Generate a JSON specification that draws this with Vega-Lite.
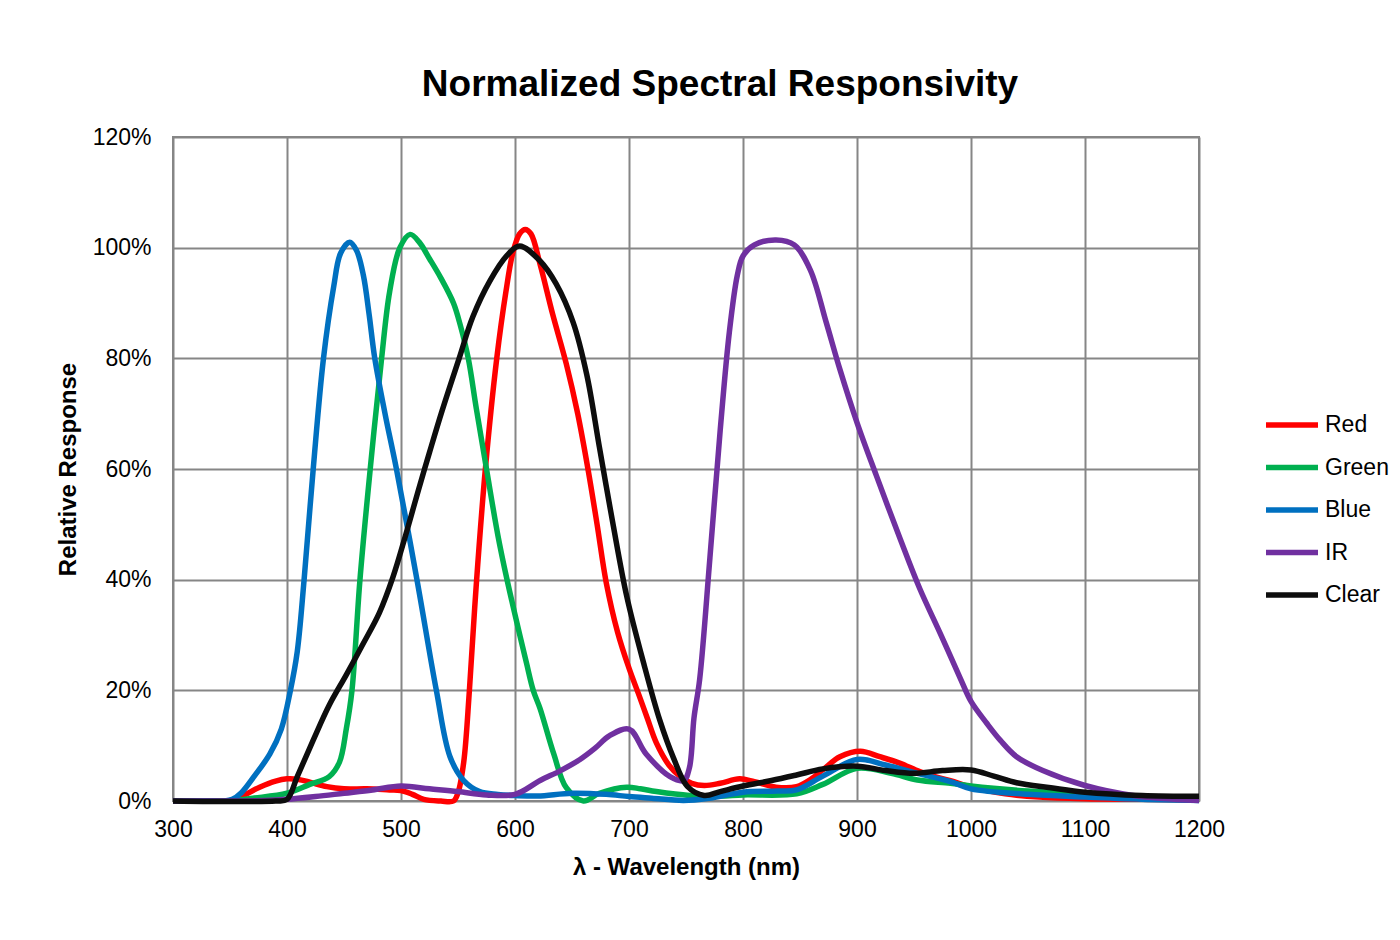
{
  "$schema": "https://vega.github.io/schema/vega-lite/v6.json",
  "width": 1026,
  "height": 664,
  "autosize": {"type": "none"},
  "padding": {"left": 173, "top": 137, "right": 201, "bottom": 139},
  "background": "white",
  "title": {"text": "Normalized Spectral Responsivity", "font": "Liberation Sans", "fontSize": 37, "fontWeight": "bold", "color": "black", "anchor": "middle", "frame": "group", "dx": 34, "offset": 22},
  "datasets": {
    "red": [
      {"wl":300,"v":0},{"wl":340,"v":0},{"wl":350,"v":0},{"wl":360,"v":0.8},{"wl":376,"v":2.5},{"wl":390,"v":3.6},{"wl":400,"v":4},{"wl":410,"v":3.9},{"wl":420,"v":3.4},{"wl":435,"v":2.6},{"wl":450,"v":2.2},{"wl":470,"v":2.2},{"wl":490,"v":2},{"wl":500,"v":1.9},{"wl":510,"v":1.2},{"wl":520,"v":0.3},{"wl":535,"v":0},{"wl":546,"v":0},{"wl":550,"v":1.5},{"wl":555,"v":7},{"wl":560,"v":20},{"wl":566,"v":39},{"wl":574,"v":60},{"wl":584,"v":80},{"wl":592,"v":92},{"wl":598,"v":99},{"wl":604,"v":102.5},{"wl":609,"v":103.3},{"wl":614,"v":102.5},{"wl":622,"v":97},{"wl":633,"v":88},{"wl":645,"v":79},{"wl":655,"v":70},{"wl":664,"v":60},{"wl":672,"v":50},{"wl":680,"v":39.5},{"wl":690,"v":30.5},{"wl":700,"v":24},{"wl":709,"v":19},{"wl":716,"v":15},{"wl":724,"v":10.5},{"wl":735,"v":6.5},{"wl":745,"v":4.4},{"wl":755,"v":3.2},{"wl":766,"v":2.8},{"wl":780,"v":3.2},{"wl":797,"v":4},{"wl":810,"v":3.5},{"wl":829,"v":2.5},{"wl":847,"v":2.6},{"wl":860,"v":4},{"wl":871,"v":5.8},{"wl":885,"v":8},{"wl":903,"v":9},{"wl":920,"v":8},{"wl":938,"v":6.8},{"wl":955,"v":5.3},{"wl":970,"v":4.3},{"wl":982,"v":3.7},{"wl":1000,"v":2.5},{"wl":1030,"v":1.3},{"wl":1060,"v":0.7},{"wl":1100,"v":0.4},{"wl":1150,"v":0.3},{"wl":1200,"v":0.2}
    ],
    "green": [
      {"wl":300,"v":0},{"wl":340,"v":0},{"wl":350,"v":0},{"wl":370,"v":0.5},{"wl":400,"v":1.4},{"wl":420,"v":3},{"wl":437,"v":4.4},{"wl":446,"v":7},{"wl":452,"v":13},{"wl":457,"v":20},{"wl":464,"v":40},{"wl":473,"v":60},{"wl":483,"v":80},{"wl":490,"v":92},{"wl":499,"v":100},{"wl":508,"v":102.4},{"wl":516,"v":101},{"wl":525,"v":98},{"wl":535,"v":94.5},{"wl":546,"v":90},{"wl":552,"v":86},{"wl":559,"v":80},{"wl":566,"v":71},{"wl":575,"v":60},{"wl":585,"v":48},{"wl":593,"v":40},{"wl":600,"v":33.7},{"wl":610,"v":25},{"wl":616,"v":20},{"wl":622,"v":16.7},{"wl":634,"v":8.5},{"wl":645,"v":2.4},{"wl":660,"v":0},{"wl":674,"v":1.4},{"wl":698,"v":2.5},{"wl":710,"v":2.2},{"wl":724,"v":1.7},{"wl":753,"v":1},{"wl":780,"v":0.9},{"wl":800,"v":1.1},{"wl":847,"v":1.3},{"wl":870,"v":3},{"wl":900,"v":5.9},{"wl":930,"v":5},{"wl":953,"v":3.8},{"wl":982,"v":3.2},{"wl":1000,"v":2.7},{"wl":1050,"v":1.8},{"wl":1100,"v":1.3},{"wl":1150,"v":0.8},{"wl":1200,"v":0.4}
    ],
    "blue": [
      {"wl":300,"v":0},{"wl":330,"v":0},{"wl":345,"v":0},{"wl":352,"v":0.3},{"wl":360,"v":1.5},{"wl":371,"v":4.4},{"wl":385,"v":8.5},{"wl":395,"v":13},{"wl":403,"v":20},{"wl":409,"v":27},{"wl":415,"v":40},{"wl":423,"v":60},{"wl":432,"v":80},{"wl":441,"v":93},{"wl":447,"v":99},{"wl":455,"v":101},{"wl":461,"v":99.5},{"wl":467,"v":95},{"wl":472,"v":88},{"wl":477,"v":80},{"wl":486,"v":70},{"wl":496,"v":60},{"wl":514,"v":40},{"wl":531,"v":20},{"wl":543,"v":8},{"wl":555,"v":3.7},{"wl":569,"v":1.7},{"wl":585,"v":1.2},{"wl":600,"v":1},{"wl":620,"v":0.9},{"wl":650,"v":1.4},{"wl":680,"v":1.2},{"wl":700,"v":0.8},{"wl":720,"v":0.5},{"wl":748,"v":0.1},{"wl":770,"v":0.5},{"wl":800,"v":1.6},{"wl":830,"v":1.8},{"wl":847,"v":2},{"wl":870,"v":4.5},{"wl":900,"v":7.5},{"wl":925,"v":6.5},{"wl":953,"v":5},{"wl":982,"v":3.5},{"wl":1000,"v":2.2},{"wl":1050,"v":1.2},{"wl":1100,"v":0.7},{"wl":1150,"v":0.3},{"wl":1200,"v":0.1}
    ],
    "ir": [
      {"wl":300,"v":0},{"wl":340,"v":0},{"wl":380,"v":0.1},{"wl":400,"v":0.3},{"wl":425,"v":0.8},{"wl":450,"v":1.4},{"wl":475,"v":2},{"wl":500,"v":2.7},{"wl":525,"v":2.2},{"wl":550,"v":1.7},{"wl":575,"v":1.1},{"wl":600,"v":1.2},{"wl":622,"v":3.7},{"wl":640,"v":5.5},{"wl":657,"v":7.5},{"wl":670,"v":9.5},{"wl":683,"v":11.8},{"wl":700,"v":13},{"wl":715,"v":8.5},{"wl":736,"v":4.4},{"wl":748,"v":3.7},{"wl":753,"v":6},{"wl":757,"v":15},{"wl":762,"v":22},{"wl":771,"v":44},{"wl":780,"v":67},{"wl":788,"v":84.7},{"wl":795,"v":95},{"wl":800,"v":98.5},{"wl":810,"v":100.5},{"wl":829,"v":101.4},{"wl":845,"v":100.5},{"wl":859,"v":96},{"wl":873,"v":86.5},{"wl":885,"v":78},{"wl":900,"v":68.4},{"wl":917,"v":58.8},{"wl":938,"v":47.3},{"wl":955,"v":38.4},{"wl":973,"v":30.3},{"wl":991,"v":22},{"wl":1000,"v":18},{"wl":1014,"v":14},{"wl":1026,"v":10.9},{"wl":1040,"v":8},{"wl":1063,"v":5.5},{"wl":1100,"v":2.8},{"wl":1142,"v":1},{"wl":1200,"v":0.1}
    ],
    "clear": [
      {"wl":300,"v":0},{"wl":390,"v":0},{"wl":400,"v":0.3},{"wl":409,"v":4.4},{"wl":423,"v":11},{"wl":437,"v":17.3},{"wl":452,"v":22.8},{"wl":467,"v":28.5},{"wl":481,"v":34},{"wl":493,"v":40.5},{"wl":504,"v":48},{"wl":515,"v":56},{"wl":525,"v":63},{"wl":536,"v":70.5},{"wl":551,"v":80},{"wl":563,"v":87.5},{"wl":578,"v":94},{"wl":593,"v":98.6},{"wl":604,"v":100.3},{"wl":622,"v":97.6},{"wl":636,"v":93.5},{"wl":651,"v":86.5},{"wl":663,"v":77},{"wl":674,"v":64},{"wl":686,"v":50},{"wl":698,"v":37},{"wl":713,"v":24.8},{"wl":727,"v":14.6},{"wl":739,"v":7.8},{"wl":751,"v":2.7},{"wl":766,"v":1},{"wl":780,"v":1.7},{"wl":800,"v":2.7},{"wl":825,"v":3.7},{"wl":847,"v":4.7},{"wl":870,"v":5.8},{"wl":900,"v":6.3},{"wl":925,"v":5.5},{"wl":950,"v":5},{"wl":975,"v":5.5},{"wl":1000,"v":5.6},{"wl":1020,"v":4.5},{"wl":1040,"v":3.3},{"wl":1070,"v":2.4},{"wl":1100,"v":1.6},{"wl":1150,"v":1},{"wl":1200,"v":0.85}
    ]
  },
  "layer": [
    {"data": {"name": "red"}, "mark": {"type": "line", "interpolate": "catmull-rom", "strokeWidth": 5.5, "clip": false},
     "encoding": {"x": {"field": "wl", "type": "quantitative"}, "y": {"field": "v", "type": "quantitative"}, "color": {"datum": "Red"}}},
    {"data": {"name": "green"}, "mark": {"type": "line", "interpolate": "catmull-rom", "strokeWidth": 5.5, "clip": false},
     "encoding": {"x": {"field": "wl", "type": "quantitative"}, "y": {"field": "v", "type": "quantitative"}, "color": {"datum": "Green"}}},
    {"data": {"name": "blue"}, "mark": {"type": "line", "interpolate": "catmull-rom", "strokeWidth": 5.5, "clip": false},
     "encoding": {"x": {"field": "wl", "type": "quantitative"}, "y": {"field": "v", "type": "quantitative"}, "color": {"datum": "Blue"}}},
    {"data": {"name": "ir"}, "mark": {"type": "line", "interpolate": "catmull-rom", "strokeWidth": 5.5, "clip": false},
     "encoding": {"x": {"field": "wl", "type": "quantitative"}, "y": {"field": "v", "type": "quantitative"}, "color": {"datum": "IR"}}},
    {"data": {"name": "clear"}, "mark": {"type": "line", "interpolate": "catmull-rom", "strokeWidth": 5.5, "clip": false},
     "encoding": {"x": {"field": "wl", "type": "quantitative"}, "y": {"field": "v", "type": "quantitative"}, "color": {"datum": "Clear"}}}
  ],
  "resolve": {"scale": {"color": "shared"}},
  "encoding": {
    "x": {"field": "wl", "type": "quantitative",
      "scale": {"domain": [300, 1200], "nice": false, "zero": false},
      "axis": {"values": [300,400,500,600,700,800,900,1000,1100,1200], "format": "d", "labelFlush": false, "title": "λ - Wavelength (nm)", "labelPadding": 17, "titlePadding": 14}},
    "y": {"field": "v", "type": "quantitative",
      "scale": {"domain": [0, 120], "nice": false},
      "axis": {"values": [0,20,40,60,80,100,120], "labelExpr": "datum.value + '%'", "labelFlush": false, "title": "Relative Response", "labelPadding": 22, "titlePadding": 12}},
    "color": {"type": "nominal",
      "scale": {"domain": ["Red","Green","Blue","IR","Clear"], "range": ["#FF0000","#00B050","#0070C0","#7030A0","#0D0D0D"]},
      "legend": {"title": null, "orient": "none", "legendX": 1090, "legendY": 259, "symbolType": "stroke", "symbolSize": 2704, "symbolStrokeWidth": 5.5, "labelFontSize": 23, "labelFont": "Liberation Sans", "labelColor": "black", "labelOffset": 4, "rowPadding": 1.5, "padding": 0}}
  },
  "config": {
    "view": {"stroke": "#868686", "strokeWidth": 2},
    "axis": {"grid": true, "gridColor": "#868686", "gridWidth": 2, "gridOpacity": 1, "ticks": false, "domain": false,
      "labelFont": "Liberation Sans", "labelFontSize": 23, "labelColor": "black",
      "titleFont": "Liberation Sans", "titleFontSize": 24, "titleFontWeight": "bold", "titleColor": "black"}
  }
}
